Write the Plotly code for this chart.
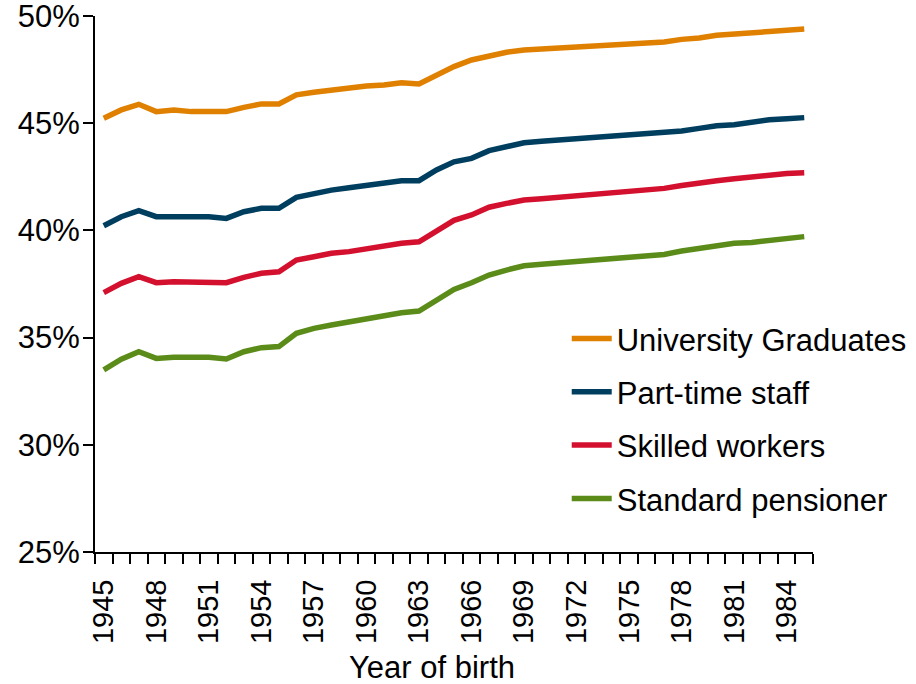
import plotly.graph_objects as go

# Birth cohorts 1945-1985
years = list(range(1945, 1986))

university_graduates = [
    45.23, 45.62, 45.88, 45.54, 45.62, 45.54, 45.54, 45.54, 45.74, 45.90,
    45.90, 46.32, 46.44, 46.55, 46.63, 46.73, 46.78, 46.89, 46.83, 47.25,
    47.64, 47.95, 48.15, 48.31, 48.41, 48.46, 48.46, 48.52, 48.57, 48.63,
    48.69, 48.74, 48.79, 48.91, 48.97, 49.10, 49.15, 49.25, 49.31, 49.35,
    49.39,
]
part_time_staff = [
    40.22, 40.64, 40.92, 40.64, 40.64, 40.64, 40.64, 40.56, 40.87, 41.03,
    41.03, 41.54, 41.73, 41.88, 41.99, 42.10, 42.21, 42.32, 42.32, 42.82,
    43.20, 43.36, 43.72, 43.90, 44.09, 44.16, 44.22, 44.26, 44.32, 44.37,
    44.42, 44.46, 44.53, 44.64, 44.76, 44.88, 44.93, 45.06, 45.16, 45.21,
    45.26,
]
skilled_workers = [
    37.10, 37.53, 37.84, 37.56, 37.61, 37.61, 37.56, 37.56, 37.81, 38.00,
    38.07, 38.62, 38.77, 38.93, 39.01, 39.16, 39.27, 39.40, 39.47, 39.94,
    40.47, 40.72, 41.08, 41.26, 41.42, 41.48, 41.54, 41.60, 41.66, 41.73,
    41.79, 41.85, 41.96, 42.09, 42.23, 42.32, 42.41, 42.50, 42.62, 42.65,
    42.69,
]
standard_pensioner = [
    33.49, 33.99, 34.34, 34.03, 34.08, 34.08, 34.08, 34.00, 34.34, 34.53,
    34.58, 35.20, 35.43, 35.59, 35.74, 35.90, 36.01, 36.16, 36.24, 36.75,
    37.25, 37.56, 37.92, 38.15, 38.35, 38.42, 38.48, 38.53, 38.59, 38.65,
    38.73, 38.81, 38.88, 39.04, 39.16, 39.27, 39.40, 39.44, 39.55, 39.60,
    39.71,
]

series = [
    ("University Graduates", university_graduates, "#E08000"),
    ("Part-time staff", part_time_staff, "#003E5F"),
    ("Skilled workers", skilled_workers, "#D4102F"),
    ("Standard pensioner", standard_pensioner, "#5B8C1A"),
]

y_ticks = [25, 30, 35, 40, 45, 50]
label_years = years[::3]
boundaries = [y - 0.5 for y in years] + [years[-1] + 0.5]

FONT = "Liberation Sans, Arial, sans-serif"

fig = go.Figure()
for i, (name, values, color) in enumerate(series):
    fig.add_trace(go.Scatter(
        x=years, y=values, name=name, mode="lines",
        line=dict(color=color, width=5.5),
        legendgroup=f"g{i}",
    ))

fig.update_layout(
    width=916, height=684,
    margin=dict(l=95, r=103, t=16, b=132, autoexpand=False),
    paper_bgcolor="white", plot_bgcolor="white",
    font=dict(family=FONT, color="black"),
    showlegend=True,
    legend=dict(
        x=0.657, y=0.448, xanchor="left", yanchor="top",
        font=dict(size=31, family=FONT, color="black"),
        bgcolor="rgba(0,0,0,0)", borderwidth=0,
        tracegroupgap=10, itemwidth=40,
    ),
    xaxis=dict(
        range=[years[0] - 0.5, years[-1] + 0.5],
        tickmode="array", tickvals=label_years,
        ticktext=[str(y) for y in label_years],
        tickangle=-90, ticks="outside", ticklen=10,
        tickcolor="rgba(0,0,0,0)", ticklabelstandoff=4,
        tickfont=dict(size=29, family=FONT, color="black"),
        showline=True, linecolor="black", linewidth=2,
        showgrid=False, zeroline=False,
        minor=dict(tickmode="array", tickvals=boundaries, ticks="outside",
                   ticklen=10, tickcolor="black", tickwidth=2, showgrid=False),
    ),
    yaxis=dict(
        range=[25, 50], tickmode="array", tickvals=y_ticks,
        ticktext=[f"{v}%" for v in y_ticks],
        ticks="outside", ticklen=10, tickcolor="black", tickwidth=2,
        ticklabeloverflow="allow", ticklabelstandoff=-3,
        tickfont=dict(size=31, family=FONT, color="black"),
        showline=True, linecolor="black", linewidth=2,
        showgrid=False, zeroline=False,
    ),
    annotations=[dict(
        text="Year of birth", xref="paper", yref="paper",
        x=(432 - 95) / 718, y=-0.215, xanchor="center", yanchor="middle",
        showarrow=False, font=dict(size=31, family=FONT, color="black"),
    )],
)

fig.write_html("out.html")
